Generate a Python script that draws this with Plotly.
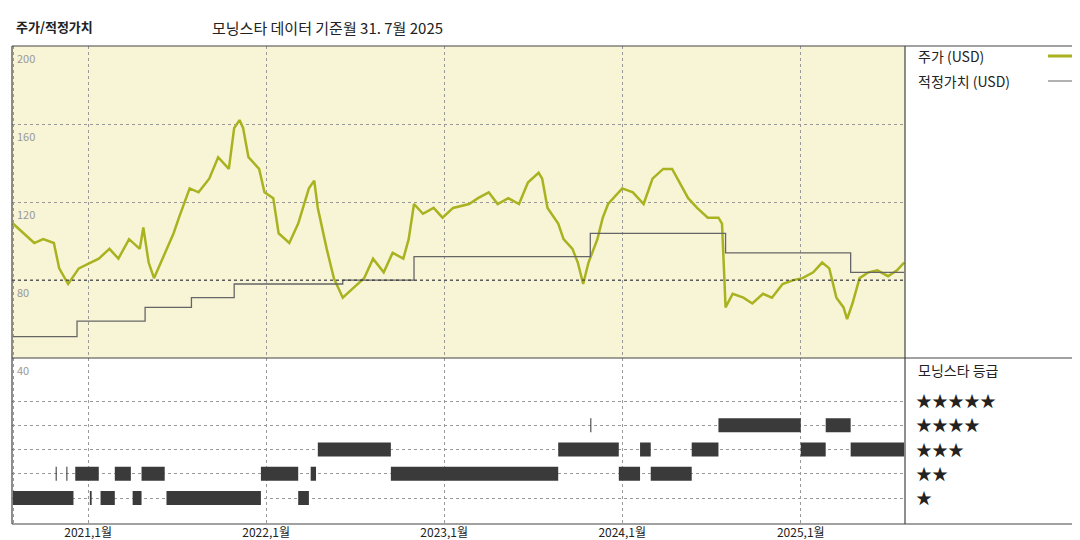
import datetime as dt
import plotly.graph_objects as go

# decimal-year time stamps and prices (USD)
price_t = [2020.58,2020.64,2020.70,2020.75,2020.81,2020.84,2020.87,2020.89,2020.95,2021.01,2021.06,2021.12,2021.17,2021.23,2021.29,2021.31,2021.34,2021.37,2021.43,2021.48,2021.51,2021.57,2021.62,2021.68,2021.73,2021.79,2021.82,2021.85,2021.87,2021.90,2021.96,2021.99,2022.04,2022.07,2022.13,2022.18,2022.24,2022.27,2022.29,2022.34,2022.38,2022.43,2022.49,2022.55,2022.60,2022.66,2022.71,2022.77,2022.80,2022.83,2022.88,2022.94,2022.99,2023.05,2023.14,2023.19,2023.25,2023.30,2023.36,2023.42,2023.47,2023.53,2023.55,2023.58,2023.64,2023.67,2023.72,2023.75,2023.78,2023.81,2023.86,2023.89,2023.92,2023.95,2024.00,2024.06,2024.12,2024.17,2024.23,2024.28,2024.31,2024.37,2024.42,2024.48,2024.54,2024.56,2024.58,2024.62,2024.68,2024.73,2024.79,2024.84,2024.90,2024.96,2025.01,2025.07,2025.12,2025.16,2025.20,2025.24,2025.26,2025.29,2025.33,2025.38,2025.43,2025.49,2025.54,2025.58]
price_v = [109,104,99,101,99,86,81,78,86,89,91,96,91,101,96,107,89,81,94,104,112,127,125,132,143,137,158,162,158,143,137,125,122,104,99,109,127,131,117,96,81,71,76,81,91,84,94,91,101,119,114,117,112,117,119,122,125,119,122,119,130,135,132,117,109,101,96,89,78,89,101,112,119,122,127,125,119,132,137,137,132,122,117,112,112,109,66,73,71,68,73,71,78,80,81,84,89,86,71,66,60,68,81,84,85,82,85,89]

fair_t = [2020.58,2020.94,2021.32,2021.58,2021.82,2022.43,2022.83,2023.82,2024.58,2025.28,2025.58]
fair_v = [51,59,66,71,78,80,92,104,94,84,84]

# Morningstar rating periods: (start, end, stars)
rating_periods = [
    (2020.58,2020.92,1),(2021.01,2021.02,1),(2021.07,2021.15,1),(2021.25,2021.30,1),(2021.44,2021.97,1),(2022.18,2022.24,1),
    (2020.82,2020.826,2),(2020.88,2020.886,2),(2020.93,2021.06,2),(2021.15,2021.24,2),(2021.30,2021.43,2),(2021.97,2022.18,2),
    (2022.25,2022.28,2),(2022.70,2023.64,2),(2023.98,2024.10,2),(2024.16,2024.39,2),
    (2022.29,2022.70,3),(2023.64,2023.98,3),(2024.10,2024.16,3),(2024.39,2024.54,3),(2025.00,2025.14,3),(2025.28,2025.58,3),
    (2023.82,2023.826,4),(2024.54,2025.00,4),(2025.14,2025.28,4),
]

tick_dates = ["2020-08-01","2021-01-01","2022-01-01","2023-01-01","2024-01-01","2025-01-01"]
tick_text = ["2020,8월","2021,1월","2022,1월","2023,1월","2024,1월","2025,1월"]
price_ticks = [200,160,120,80]

def d(y):
    yr = int(y)
    return dt.datetime(yr,1,1) + dt.timedelta(days=(y-yr)*365.25)

FONT = "Noto Sans CJK KR"
OLIVE = "#a9b320"
fig = go.Figure()
fig.add_trace(go.Scatter(x=[d(t) for t in price_t], y=price_v, mode="lines",
                         line=dict(color=OLIVE, width=2.5), xaxis="x", yaxis="y"))
fig.add_trace(go.Scatter(x=[d(t) for t in fair_t], y=fair_v, mode="lines", line_shape="hv",
                         line=dict(color="#666666", width=1.3), xaxis="x", yaxis="y"))
for s, e, r in rating_periods:
    fig.add_trace(go.Scatter(x=[d(s), d(e)], y=[r, r], mode="lines",
                             line=dict(color="#3a3a3a", width=14), xaxis="x2", yaxis="y2"))

x0, x1 = d(2020.575), d(2025.585)
grid = dict(showgrid=True, gridcolor="#999", griddash="dot", gridwidth=1)
fig.update_layout(
    width=1080, height=540, showlegend=False,
    margin=dict(l=4, r=183, t=38, b=24, autoexpand=False),
    paper_bgcolor="white", plot_bgcolor="white",
    font=dict(family=FONT, size=12, color="#222"),
    xaxis=dict(domain=[0,1], anchor="y", range=[x0,x1], tickvals=tick_dates, showticklabels=False, zeroline=False, **grid),
    yaxis=dict(domain=[0.347,1], range=[40,200], tickvals=price_ticks, showticklabels=False, zeroline=False, **grid),
    xaxis2=dict(domain=[0,1], anchor="y2", range=[x0,x1], tickvals=tick_dates, ticktext=tick_text,
                tickfont=dict(size=12, color="#222"), ticklen=0, zeroline=False, **grid),
    yaxis2=dict(domain=[0,0.347], range=[-0.07,6.77], tickvals=[1,2,3,4,5], showticklabels=False, zeroline=False, **grid),
)
fig.add_shape(type="rect", xref="x domain", yref="y domain", x0=0, x1=1, y0=0, y1=1,
              fillcolor="#f8f4d6", line_width=0, layer="below")
fig.add_shape(type="line", xref="x domain", yref="y", x0=0, x1=1, y0=80, y1=80,
              line=dict(color="#333", width=1, dash="dot"))
for (a, b, c, e) in [(4,38,1080,38),(4,350,1080,350),(4,516,1080,516),(897,38,897,516),(4,38,4,516)]:
    fig.add_shape(type="line", xref="paper", yref="paper",
                  x0=(a-4)/893, x1=(c-4)/893, y0=(516-b)/478, y1=(516-e)/478,
                  line=dict(color="#444", width=1.2))
for v in price_ticks:
    fig.add_annotation(xref="x domain", yref="y", x=0.003, y=v, text=str(v), showarrow=False,
                       xanchor="left", yanchor="top", yshift=-2, font=dict(size=11, color="#999"))
fig.add_annotation(xref="x domain", yref="y2 domain", x=0.003, y=1, text="40", showarrow=False,
                   xanchor="left", yanchor="top", yshift=-2, font=dict(size=11, color="#999"))

def px(xp, yp): return (xp-4)/893, (516-yp)/478
def ann(xp, yp, text, size=13, anchor="left"):
    X, Y = px(xp, yp)
    fig.add_annotation(xref="paper", yref="paper", x=X, y=Y, text=text, showarrow=False,
                       xanchor=anchor, yanchor="middle", font=dict(size=size, color="#222", family=FONT))
ann(6, 18, "<b>주가/적정가치</b>", 13)
ann(202, 20, "모닝스타 데이터 기준월 31. 7월 2025", 15)
ann(908, 48, "주가 (USD)", 14)
ann(908, 73, "적정가치 (USD)", 14)
ann(908, 362, "모닝스타 등급", 14)
stars = ["★★★★★","★★★★","★★★","★★","★"]
for i, s in enumerate(stars):
    ann(906, 392 + i*24.3, s, 16)
for yp, col, w in [(48, OLIVE, 3), (73, "#666", 1.2)]:
    a, b = px(1040, yp); c, _ = px(1076, yp)
    fig.add_shape(type="line", xref="paper", yref="paper", x0=a, x1=c, y0=b, y1=b, line=dict(color=col, width=w))

fig.write_html("out.html")
